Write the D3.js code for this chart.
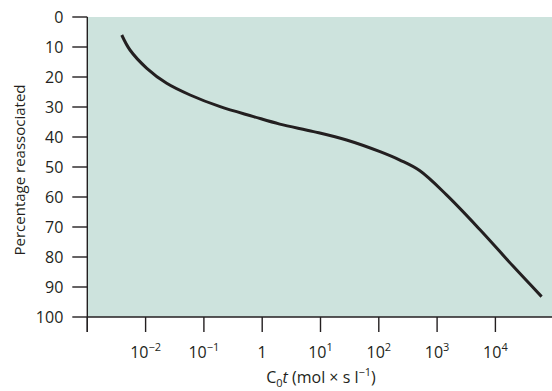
<!DOCTYPE html>
<html>
<head>
<meta charset="utf-8">
<script src="https://cdn.jsdelivr.net/npm/d3@7"></script>
<style>
  body { margin: 0; background: #fff; }
  text { font-family: 'Open Sans', sans-serif; fill: #231f20; }
</style>
</head>
<body>
<div id="chart"></div>
<script>
// C0t values (mol x s / l) and percentage reassociated
const cot = [0.0039, 0.0054, 0.0105, 0.023, 0.058, 0.19, 0.71, 2.0, 7.6, 28, 105, 230, 500, 1450, 5500, 20400, 62000]
const pct = [6, 11, 17.1, 22.1, 26, 29.9, 33.2, 35.7, 38.2, 41, 44.9, 47.7, 51.2, 59.3, 71, 83.2, 93.2]

const yTicks = [0, 10, 20, 30, 40, 50, 60, 70, 80, 90, 100]
const xTicks = [1e-3, 1e-2, 1e-1, 1, 1e1, 1e2, 1e3, 1e4]
const xExponents = [null, '\u22122', '\u22121', null, '1', '2', '3', '4'] // superscripts for labels

const width = 552
const height = 391
const margin = { top: 17, left: 87.3, bottom: 74 }
const INK = '#231f20'
const TICK = 15

const svg = d3.select('#chart').append('svg').attr('width', width).attr('height', height)

const x = d3.scaleLog().domain([1e-3, 1e5]).range([margin.left, margin.left + 8 * 58.3])
const y = d3.scaleLinear().domain([0, 100]).range([margin.top, height - margin.bottom])

// background panel
svg.append('rect')
	.attr('x', x(1e-3))
	.attr('y', y(0))
	.attr('width', x(1e5) - x(1e-3))
	.attr('height', y(100) - y(0))
	.attr('fill', '#cde3dd')

// y axis
const yaxis = svg.append('g').attr('transform', `translate(${x(1e-3)},0)`)
yaxis.append('line')
	.attr('x1', 0).attr('x2', 0)
	.attr('y1', y(0)).attr('y2', y(100) + TICK)
	.attr('stroke', INK).attr('stroke-width', 1.4)
yaxis.selectAll('line.tick')
	.data(yTicks)
	.join('line')
	.attr('class', 'tick')
	.attr('x1', -TICK).attr('x2', 0)
	.attr('y1', d => y(d)).attr('y2', d => y(d))
	.attr('stroke', INK).attr('stroke-width', 1.4)
yaxis.selectAll('text')
	.data(yTicks)
	.join('text')
	.attr('x', -24)
	.attr('y', d => y(d))
	.attr('dy', '0.36em')
	.attr('text-anchor', 'end')
	.attr('font-size', 16)
	.text(d => d)

// x axis
const xaxis = svg.append('g').attr('transform', `translate(0,${y(100)})`)
xaxis.append('line')
	.attr('x1', x(1e-3)).attr('x2', width)
	.attr('y1', 0).attr('y2', 0)
	.attr('stroke', INK).attr('stroke-width', 1.4)
xaxis.selectAll('line.tick')
	.data(xTicks)
	.join('line')
	.attr('class', 'tick')
	.attr('x1', d => x(d)).attr('x2', d => x(d))
	.attr('y1', 0).attr('y2', TICK)
	.attr('stroke', INK).attr('stroke-width', 1.4)

const labels = xaxis.selectAll('text')
	.data(xTicks.map((d, i) => ({ v: d, e: xExponents[i] })).filter(d => d.v !== 1e-3))
	.join('text')
	.attr('x', d => x(d.v))
	.attr('y', 40.5)
	.attr('text-anchor', 'middle')
	.attr('font-size', 16)
labels.append('tspan').text(d => (d.e === null ? '1' : '10'))
labels.filter(d => d.e !== null)
	.append('tspan')
	.attr('font-size', 11)
	.attr('dy', -7)
	.text(d => d.e)

// x title
const xt = svg.append('text')
	.attr('x', 321)
	.attr('y', 383)
	.attr('text-anchor', 'middle')
	.attr('font-size', 16)
xt.append('tspan').text('C')
xt.append('tspan').attr('font-size', 11).attr('dy', 4).text('0')
xt.append('tspan').attr('dy', -4).attr('font-style', 'italic').text('t')
xt.append('tspan').text(' (mol \u00d7 s l')
xt.append('tspan').attr('font-size', 11).attr('dy', -7).text('\u22121')
xt.append('tspan').attr('dy', 7).text(')')

// y title
svg.append('text')
	.attr('transform', `translate(25,170) rotate(-90)`)
	.attr('text-anchor', 'middle')
	.attr('font-size', 15)
	.text('Percentage reassociated')

// curve
const line = d3.line()
	.x(d => x(d[0]))
	.y(d => y(d[1]))
	.curve(d3.curveCatmullRom.alpha(0.5))
svg.append('path')
	.datum(cot.map((c, i) => [c, pct[i]]))
	.attr('d', line)
	.attr('fill', 'none')
	.attr('stroke', INK)
	.attr('stroke-width', 3)
</script>
</body>
</html>
